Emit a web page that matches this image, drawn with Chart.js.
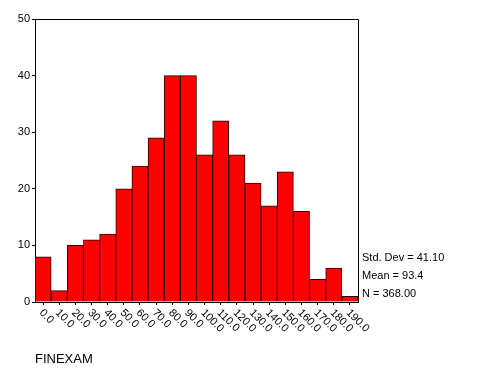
<!DOCTYPE html>
<html lang="en">
<head>
  <meta charset="UTF-8">
  <title>FINEXAM histogram</title>
  <script src="https://cdn.jsdelivr.net/npm/chart.js@4.4.0/dist/chart.umd.min.js"></script>
  <style>
    body { margin: 0; background: #fff; }
  </style>
</head>
<body>
  <canvas id="histChart" width="480" height="384"></canvas>

  <script>
    // bins (midpoints) and counts
    const binLabels = ['0.0', '10.0', '20.0', '30.0', '40.0', '50.0', '60.0', '70.0', '80.0', '90.0',
      '100.0', '110.0', '120.0', '130.0', '140.0', '150.0', '160.0', '170.0', '180.0', '190.0'];
    const counts = [8, 2, 10, 11, 12, 20, 24, 29, 40, 40, 26, 32, 26, 21, 17, 23, 16, 4, 6, 1];
    const statLines = ['Std. Dev = 41.10', 'Mean = 93.4', 'N = 368.00'];
    const axisTitle = 'FINEXAM';

    const FONT = '"Liberation Sans", Arial, sans-serif';

    // draws the box, the slanted x labels and the stats text
    const extras = {
      id: 'extras',
      afterDraw(chart) {
        const ctx = chart.ctx;
        const area = chart.chartArea;
        const xScale = chart.scales.x;
        ctx.save();
        ctx.strokeStyle = '#000';
        ctx.lineWidth = 1;
        ctx.beginPath();
        ctx.moveTo(area.left, area.top + 0.5);
        ctx.lineTo(area.right + 0.5, area.top + 0.5);
        ctx.lineTo(area.right + 0.5, area.bottom);
        ctx.stroke();

        ctx.fillStyle = '#000';
        ctx.font = '11px ' + FONT;
        ctx.textAlign = 'left';
        ctx.textBaseline = 'middle';
        binLabels.forEach((lab, i) => {
          const x = xScale.getPixelForValue(i);
          ctx.save();
          ctx.translate(x - 2, area.bottom + 9);
          ctx.rotate(Math.PI / 4);
          ctx.fillText(lab, 0, 0);
          ctx.restore();
        });

        statLines.forEach((s, i) => {
          ctx.fillText(s, area.right + 4, 258 + i * 18);
        });

        ctx.font = '13px ' + FONT;
        ctx.fillText(axisTitle, 35, 359);
        ctx.restore();
      }
    };

    const ctx = document.getElementById('histChart').getContext('2d');
    const chart = new Chart(ctx, {
      type: 'bar',
      data: {
        labels: binLabels,
        datasets: [
          {
            data: counts,
            backgroundColor: '#ff0000',
            borderColor: '#2a0000',
            borderWidth: 1,
            barPercentage: 1,
            categoryPercentage: 1
          }
        ]
      },
      options: {
        responsive: false,
        animation: false,
        layout: { padding: { top: 19, right: 122, left: 0, bottom: 0 } },
        plugins: {
          legend: { display: false },
          tooltip: { enabled: false }
        },
        scales: {
          x: {
            grid: { display: true, drawOnChartArea: false, offset: false, tickLength: 3, color: '#000' },
            border: { color: '#000' },
            ticks: { display: false },
            afterFit(scale) { scale.height = 82; }
          },
          y: {
            min: 0,
            max: 50,
            grid: { drawOnChartArea: false, tickLength: 3, color: '#000' },
            border: { color: '#000' },
            ticks: { stepSize: 10, color: '#000', padding: 2, font: { family: FONT, size: 11 } },
            afterFit(scale) { scale.width = 35; }
          }
        }
      },
      plugins: [extras]
    });
  </script>
</body>
</html>
